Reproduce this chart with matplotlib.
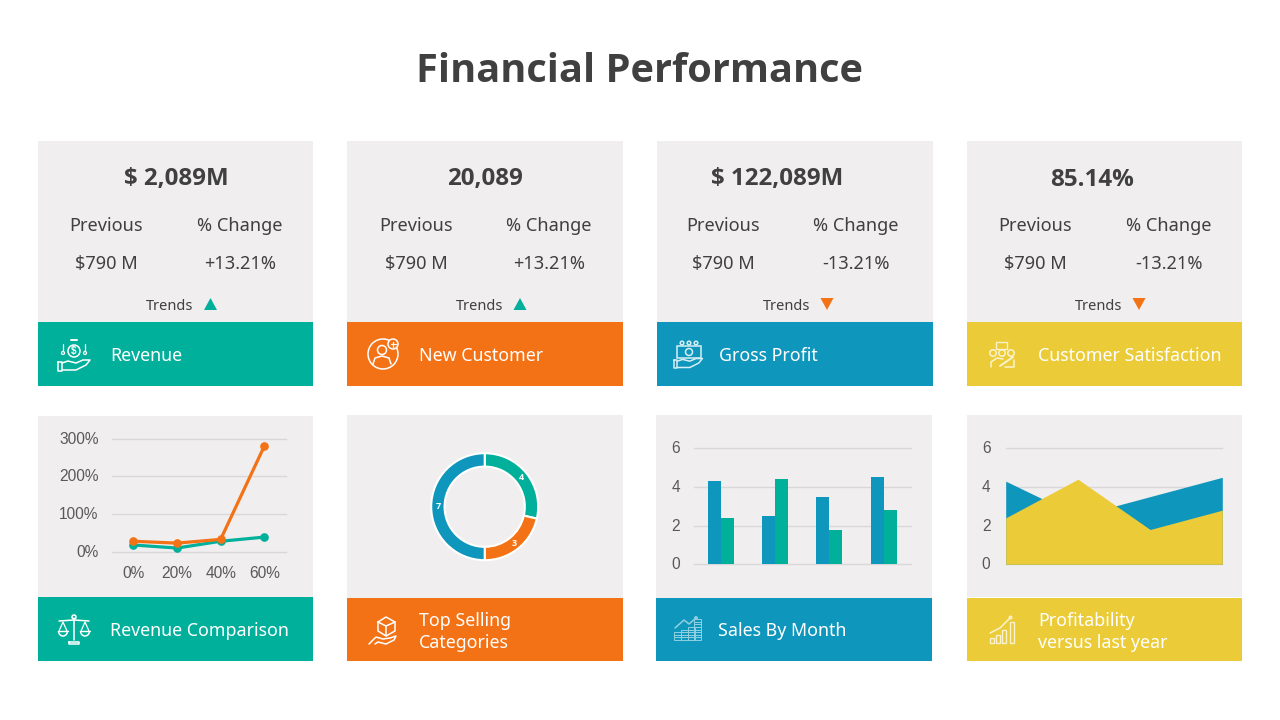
import math
import matplotlib
matplotlib.use("Agg")
import matplotlib.pyplot as plt
from matplotlib.patches import Rectangle, Circle, Polygon, Arc
from matplotlib.ticker import FuncFormatter
from matplotlib.transforms import ScaledTranslation

W, H = 1280, 720
TEAL, ORANGE, BLUE, YELLOW = "#00B09B", "#F47216", "#0F96BC", "#EBCB37"
PANEL, DARK, MID, GRID = "#F0EEEF", "#404040", "#595959", "#D9D7D9"
UI = ["Noto Sans", "DejaVu Sans"]
BOLD = ["Open Sans", "DejaVu Sans"]
CH = ["Liberation Sans", "DejaVu Sans"]

# ---- data ----
title = "Financial Performance"
kpi_values = ["$ 2,089M", "20,089", "$ 122,089M", "85.14%"]
kpi_previous = ["$790 M", "$790 M", "$790 M", "$790 M"]
kpi_change = ["+13.21%", "+13.21%", "-13.21%", "-13.21%"]
kpi_up = [True, True, False, False]
kpi_names = ["Revenue", "New Customer", "Gross Profit", "Customer Satisfaction"]
chart_names = ["Revenue Comparison", "Top Selling\nCategories", "Sales By Month", "Profitability\nversus last year"]

line_cats = ["0%", "20%", "40%", "60%"]
line_teal = [18, 10, 28, 39]
line_orange = [28, 23, 33, 280]
line_ticks = [0, 100, 200, 300]

donut_values = [4, 3, 7]
donut_colors = [TEAL, ORANGE, BLUE]

bar_blue = [4.3, 2.5, 3.5, 4.5]
bar_teal = [2.4, 4.4, 1.8, 2.8]
area_blue = [4.3, 2.5, 3.5, 4.5]
area_yellow = [2.4, 4.4, 1.8, 2.8]
num_ticks = [0, 2, 4, 6]

# ---- layout (pixels) ----
top_boxes = [(38, 313), (347, 623), (657, 933), (967, 1242)]
bot_boxes = [(38, 313), (347, 623), (656, 932), (967, 1242)]
bot_split = [597, 598, 598, 598]
colors = [TEAL, ORANGE, BLUE, YELLOW]
value_x = [176, 485, 777, 1092]
left_x = [106, 416, 723, 1035]
right_x = [240, 549, 856, 1169]
trend_x = [170, 480, 787, 1099]
tri_x = [210.5, 520, 827, 1139]
top_label_x = [110, 419, 719, 1038]
bot_label_x = [110, 419, 718, 1038]

fig = plt.figure(figsize=(W / 100, H / 100), dpi=100, facecolor="white")
bg = fig.add_axes([0, 0, 1, 1])
bg.set_xlim(0, W); bg.set_ylim(H, 0); bg.axis("off")


def t(x, y, s, size, color=DARK, ha="center", weight="normal", family=UI, **kw):
    bg.text(x, y, s, fontsize=size, color=color, ha=ha, va="center",
            fontweight=weight, family=family, **kw)


t(640, 72, title, 28.6, weight="bold", family=BOLD)

for i, (x0, x1) in enumerate(top_boxes):
    bg.add_patch(Rectangle((x0, 141), x1 - x0, 181, fc=PANEL, ec="none"))
    bg.add_patch(Rectangle((x0, 322), x1 - x0, 64, fc=colors[i], ec="none"))
    t(value_x[i], 179.5, kpi_values[i], 17.4, weight="bold", family=BOLD)
    t(left_x[i], 226, "Previous", 13.1)
    t(right_x[i], 226, "% Change", 13.1)
    t(left_x[i] + 0.5, 264, kpi_previous[i], 13.1)
    t(right_x[i], 264, kpi_change[i], 13.1)
    t(trend_x[i], 306.5, "Trends", 10.5)
    tx = tri_x[i]
    if kpi_up[i]:
        bg.add_patch(Polygon([(tx - 6.5, 310), (tx + 6.5, 310), (tx, 298)], fc=TEAL, ec="none"))
    else:
        bg.add_patch(Polygon([(tx - 6.5, 298), (tx + 6.5, 298), (tx, 310)], fc=ORANGE, ec="none"))
    t(top_label_x[i], 356, kpi_names[i], 12.8, color="white", ha="left")

for i, (x0, x1) in enumerate(bot_boxes):
    s = bot_split[i]
    top = 416 if i == 0 else 415
    bg.add_patch(Rectangle((x0, top), x1 - x0, (597 if i == 3 else s) - top, fc=PANEL, ec="none"))
    bg.add_patch(Rectangle((x0, s), x1 - x0, 661 - s, fc=colors[i], ec="none"))
    lines = chart_names[i].split("\n")
    if len(lines) == 1:
        t(bot_label_x[i], 631, lines[0], 12.8, color="white", ha="left")
    else:
        t(bot_label_x[i], 620.5, lines[0], 12.8, color="white", ha="left")
        t(bot_label_x[i], 643.5, lines[1], 12.8, color="white", ha="left")


# ---- icons ----
def ln(pts, lw=1.1, c="white"):
    xs, ys = zip(*pts)
    bg.plot(xs, ys, color=c, lw=lw, solid_capstyle="round", solid_joinstyle="round")


def circ(x, y, r, lw=1.1, c="white"):
    bg.add_patch(Circle((x, y), r, fc="none", ec=c, lw=lw))


def hand(cx, cy, c="white", s=1.0):
    ln([(cx - 16 * s, cy - 3 * s), (cx - 16 * s, cy + 6 * s), (cx - 12 * s, cy + 6 * s), (cx - 12 * s, cy - 3 * s), (cx - 16 * s, cy - 3 * s)], c=c)
    ln([(cx - 12 * s, cy - 2 * s), (cx - 6 * s, cy - 4 * s), (cx + 2 * s, cy - 2 * s), (cx + 9 * s, cy - 5 * s), (cx + 16 * s, cy - 5 * s),
        (cx + 12 * s, cy), (cx + 2 * s, cy + 5 * s), (cx - 12 * s, cy + 5 * s)], c=c)


# Revenue
hand(74, 365)
circ(74, 351, 6)
t(74, 351, "$", 7, color="white", family=CH, weight="bold")
for dx in (-11, 11):
    ln([(74 + dx, 344), (74 + dx, 351)], lw=0.9)
    circ(74 + dx, 353, 1.5, lw=0.9)
ln([(71, 340), (77, 340)], lw=1.4)
# New customer
circ(383, 354, 15)
circ(382, 350, 4.5)
ln([(373, 364), (375, 358), (382, 356), (389, 358), (391, 364)])
bg.add_patch(Circle((393, 344), 5, fc=ORANGE, ec="white", lw=1.1))
ln([(390.5, 344), (395.5, 344)], lw=0.9); ln([(393, 341.5), (393, 346.5)], lw=0.9)
# Gross profit
GP = "#D6EEF5"
hand(688, 363, c=GP, s=0.9)
bg.add_patch(Rectangle((677, 346), 24, 12, fc="none", ec=GP, lw=1.1))
circ(689, 352, 3.5, c=GP)
for dx in (-7, 0, 7):
    circ(689 + dx, 343, 1.8, c=GP)
# Customer satisfaction
CS = "#FBF3CE"
bg.add_patch(Rectangle((996, 342), 11, 7, fc="none", ec=CS, lw=1.0))
for dx in (-9, 0, 9):
    circ(1002 + dx, 353, 3.2, c=CS)
ln([(991, 367), (991, 362), (997, 358), (1003, 359)], c=CS)
ln([(1000, 366), (1013, 357)], lw=1.4, c=CS)
ln([(1005, 367), (1014, 367), (1014, 360)], c=CS)
# Revenue comparison (scales)
ln([(74, 618), (74, 640)]); ln([(69, 642), (79, 642), (79, 644), (69, 644), (69, 642)])
ln([(59, 621), (74, 620), (89, 621)]); circ(74, 617, 2)
for cx in (63, 85):
    ln([(cx - 4, 631), (cx, 622), (cx + 4, 631)], lw=0.9)
    bg.add_patch(Arc((cx, 631), 9, 10, theta1=0, theta2=180, ec="white", lw=1.1))
    ln([(cx - 4.5, 631), (cx + 4.5, 631)], lw=1.0)
# Top selling (box + hand)
ln([(378, 622), (386, 617), (395, 622), (395, 631), (386, 636), (378, 631), (378, 622)])
ln([(378, 622), (386, 626), (395, 622)]); ln([(386, 626), (386, 636)])
ln([(369, 644), (376, 637), (383, 639), (390, 638), (396, 636), (394, 640), (386, 644), (378, 642), (375, 644)])
# Sales by month
SM = "#8FD0E3"
for cx, n in ((677, 3), (684, 4), (691, 5), (697, 8)):
    for j in range(n):
        bg.add_patch(Rectangle((cx - 3.5, 640 - (j + 1) * 2.6), 7, 2.6, fc="none", ec=SM, lw=0.7))
ln([(675, 628), (684, 620), (689, 624), (696, 618)], c=SM)
circ(696, 618, 1.2, c=SM)
# Profitability
PF = "#FBF3CE"
for cx, h in ((992, 5), (998, 8), (1004, 13), (1012, 21)):
    bg.add_patch(Rectangle((cx - 2, 643 - h), 4, h, fc="none", ec=PF, lw=1.0))
ln([(990, 633), (1000, 628), (1010, 618)], c=PF)
circ(1010.5, 617.5, 1.2, c=PF)


# ---- charts ----
def chart_axes(x0, x1, ytop, ybot):
    ax = fig.add_axes([x0 / W, 1 - ybot / H, (x1 - x0) / W, (ybot - ytop) / H])
    ax.patch.set_alpha(0)
    for sp in ax.spines.values():
        sp.set_visible(False)
    ax.tick_params(length=0, labelcolor=MID, labelsize=11.2)
    ax.grid(axis="y", color=GRID, lw=1, clip_on=False)
    ax.set_axisbelow(True)
    return ax


def style_labels(ax, dy_px=1.0):
    up = ScaledTranslation(0, dy_px / 100, fig.dpi_scale_trans)
    for lab in ax.get_xticklabels() + ax.get_yticklabels():
        lab.set_family(CH)
    for lab in ax.get_yticklabels():
        lab.set_transform(lab.get_transform() + up)


# line chart
ax = chart_axes(111.7, 286, 438.8, 551.8)
xs = list(range(len(line_cats)))
ax.plot(xs, line_teal, color=TEAL, lw=2.3, marker="o", ms=5.2, clip_on=False)
ax.plot(xs, line_orange, color=ORANGE, lw=2.3, marker="o", ms=5.2, clip_on=False)
ax.set_xlim(-0.5, 3.5); ax.set_ylim(0, 300)
ax.set_xticks(xs, line_cats); ax.set_yticks(line_ticks)
ax.yaxis.set_major_formatter(FuncFormatter(lambda v, _: f"{v:.0f}%"))
ax.tick_params(axis="y", pad=9.5); ax.tick_params(axis="x", pad=10)
style_labels(ax, 1.0)

# donut
r = 53.5
ax = fig.add_axes([(484.7 - r) / W, 1 - (506.7 + r) / H, 2 * r / W, 2 * r / H])
ax.patch.set_alpha(0)
wedges, _ = ax.pie(donut_values, colors=donut_colors, startangle=90, counterclock=False, radius=1,
                   wedgeprops=dict(width=0.25, edgecolor="white", linewidth=1.5))
ax.set_xlim(-1, 1); ax.set_ylim(-1, 1)
for w, v in zip(wedges, donut_values):
    a = math.radians((w.theta1 + w.theta2) / 2)
    ax.text(0.875 * math.cos(a), 0.875 * math.sin(a), str(v), color="white", fontsize=6.5,
            fontweight="bold", ha="center", va="center", family=BOLD)

# bars
ax = chart_axes(693.8, 910.7, 448.3, 564.3)
xs = list(range(len(bar_blue)))
bw = 0.24
ax.bar([x - bw / 2 for x in xs], bar_blue, bw, color=BLUE)
ax.bar([x + bw / 2 for x in xs], bar_teal, bw, color=TEAL)
ax.set_xlim(-0.5, 3.5); ax.set_ylim(0, 6)
ax.set_xticks([]); ax.set_yticks(num_ticks)
ax.tick_params(axis="y", pad=10)
style_labels(ax)

# area
ax = chart_axes(1005.7, 1222.3, 448.3, 564.3)
xs = list(range(len(area_blue)))
ax.fill_between(xs, area_blue, color=BLUE, lw=0)
ax.fill_between(xs, area_yellow, color=YELLOW, lw=0)
ax.set_xlim(0, 3); ax.set_ylim(0, 6)
ax.set_xticks([]); ax.set_yticks(num_ticks)
ax.tick_params(axis="y", pad=11)
style_labels(ax)

fig.savefig("out.png", dpi=100, facecolor="white")
